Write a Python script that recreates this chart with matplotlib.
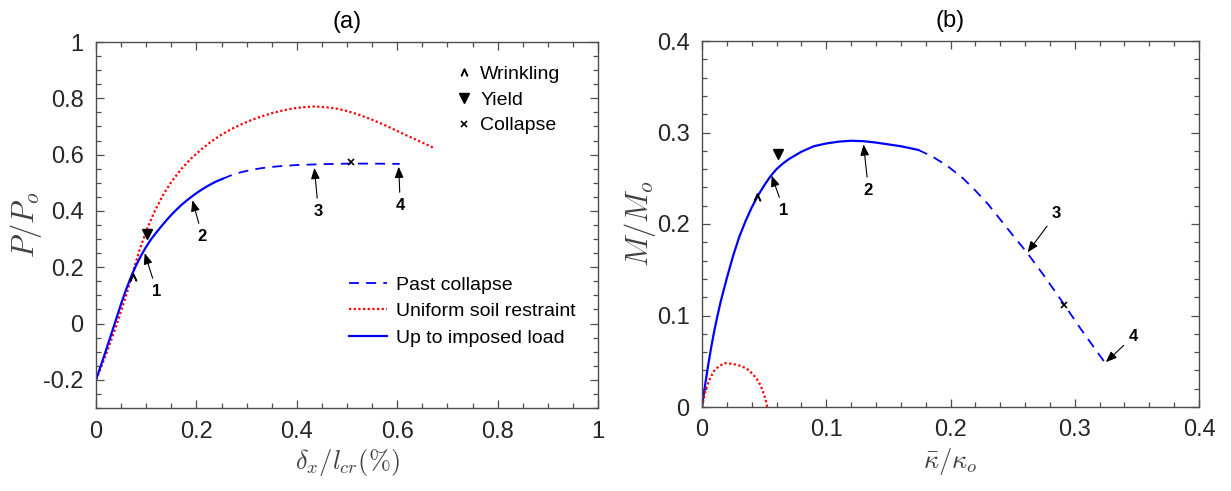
import numpy as np
import matplotlib.pyplot as plt
from matplotlib.ticker import MultipleLocator

plt.rcParams['font.family'] = ['Liberation Sans', 'DejaVu Sans']
plt.rcParams['mathtext.fontset'] = 'cm'

# (a) axial load vs. axial displacement
a_solid_x = [0, 0.01, 0.02, 0.03, 0.04, 0.05, 0.06, 0.07, 0.08, 0.09, 0.1, 0.11, 0.12, 0.13,
             0.14, 0.15, 0.16, 0.17, 0.18, 0.19, 0.2, 0.21, 0.22, 0.23, 0.24, 0.252]
a_solid_y = [-0.2, -0.148, -0.094, -0.04, 0.015, 0.07, 0.121, 0.167, 0.207, 0.242, 0.273, 0.3,
             0.323, 0.345, 0.366, 0.386, 0.404, 0.421, 0.436, 0.45, 0.463, 0.475, 0.486, 0.496,
             0.505, 0.514]
a_dash_x = [0.252, 0.27, 0.29, 0.31, 0.33, 0.36, 0.4, 0.45, 0.5, 0.55, 0.605]
a_dash_y = [0.514, 0.527, 0.538, 0.546, 0.552, 0.558, 0.563, 0.566, 0.568, 0.568, 0.567]
a_soil_x = [0, 0.02, 0.04, 0.06, 0.074, 0.087, 0.101, 0.118, 0.134, 0.15, 0.17, 0.19, 0.21,
            0.23, 0.25, 0.27, 0.29, 0.31, 0.33, 0.35, 0.37, 0.39, 0.41, 0.435, 0.46, 0.48,
            0.5, 0.525, 0.55, 0.575, 0.6, 0.625, 0.65, 0.675]
a_soil_y = [-0.2, -0.11, -0.01, 0.1, 0.186, 0.263, 0.333, 0.403, 0.458, 0.503, 0.549, 0.587,
            0.619, 0.647, 0.671, 0.691, 0.708, 0.723, 0.736, 0.747, 0.756, 0.763, 0.768, 0.771,
            0.768, 0.763, 0.755, 0.741, 0.724, 0.705, 0.684, 0.663, 0.643, 0.622]
a_wrinkle = (0.074, 0.166)
a_yield = (0.101, 0.318)
a_collapse = (0.507, 0.573)
a_labels = ['1', '2', '3', '4']
a_tips = [(0.097, 0.25), (0.192, 0.438), (0.435, 0.553), (0.603, 0.557)]
a_texts = [(0.121, 0.115), (0.212, 0.31), (0.443, 0.399), (0.606, 0.42)]

# (b) moment vs. curvature
b_solid_x = [0, 0.0025, 0.005, 0.0075, 0.01, 0.0125, 0.015, 0.02, 0.025, 0.03, 0.035, 0.04,
             0.045, 0.05, 0.055, 0.06, 0.065, 0.07, 0.08, 0.09, 0.1, 0.11, 0.12, 0.13, 0.14,
             0.15, 0.16, 0.174]
b_solid_y = [0, 0.024, 0.046, 0.066, 0.084, 0.1, 0.115, 0.141, 0.165, 0.186, 0.203, 0.218,
             0.231, 0.242, 0.252, 0.26, 0.266, 0.271, 0.279, 0.285, 0.288, 0.29, 0.291, 0.2905,
             0.289, 0.287, 0.285, 0.281]
b_dash_x = [0.174, 0.185, 0.197, 0.21, 0.219, 0.23, 0.24, 0.25, 0.262, 0.275, 0.291, 0.305, 0.324]
b_dash_y = [0.281, 0.274, 0.264, 0.25, 0.238, 0.222, 0.205, 0.188, 0.168, 0.144, 0.113, 0.085, 0.049]
b_soil_x = [0, 0.002, 0.004, 0.007, 0.01, 0.014, 0.019, 0.025, 0.031, 0.036, 0.04, 0.044,
            0.047, 0.049, 0.051, 0.0525]
b_soil_y = [0, 0.013, 0.023, 0.033, 0.04, 0.045, 0.048, 0.047, 0.045, 0.042, 0.037, 0.031,
            0.024, 0.017, 0.009, 0]
b_wrinkle = (0.044, 0.229)
b_yield = (0.061, 0.277)
b_collapse = (0.291, 0.112)
b_labels = ['1', '2', '3', '4']
b_tips = [(0.056, 0.253), (0.13, 0.287), (0.262, 0.169), (0.325, 0.049)]
b_texts = [(0.066, 0.215), (0.134, 0.237), (0.285, 0.211), (0.347, 0.077)]

BLUE = (0, 0, 1)
RED = (1, 0, 0)
AXCOL = '0.3'
TXTCOL = '#262626'
LABCOL = '0.25'
caret = r'$\wedge$'
DASH = (5.5, 4)
DOT = (1, 1.1)


def style_axes(ax, xmax, ymin, ymax, xmaj, ymaj, xmin_step, ymin_step):
    ax.set_xlim(0, xmax)
    ax.set_ylim(ymin, ymax)
    ax.xaxis.set_major_locator(MultipleLocator(xmaj))
    ax.yaxis.set_major_locator(MultipleLocator(ymaj))
    ax.xaxis.set_minor_locator(MultipleLocator(xmin_step))
    ax.yaxis.set_minor_locator(MultipleLocator(ymin_step))
    ax.tick_params(which='both', direction='in', top=True, right=True, colors=AXCOL,
                   labelcolor=TXTCOL, labelsize=17, width=0.9)
    ax.tick_params(which='major', length=6, pad=9)
    ax.tick_params(which='minor', length=3.5)
    for s in ax.spines.values():
        s.set_color(AXCOL)
        s.set_linewidth(1.0)


def add_arrows(ax, labels, tips, texts):
    for lab, tip, txt in zip(labels, tips, texts):
        ax.annotate(lab, xy=tip, xytext=txt, ha='center', va='center',
                    fontsize=12, fontweight='bold', color='k',
                    arrowprops=dict(arrowstyle='-|>,head_length=0.55,head_width=0.22',
                                    color='k', lw=0.8, shrinkA=2, shrinkB=0))


def fmt(v, pos):
    if abs(v) < 1e-9:
        return '0'
    if abs(v - round(v)) < 1e-9:
        return '%d' % round(v)
    return ('%.1f' % v)


fig = plt.figure(figsize=(12.31, 4.91), dpi=100)
ax1 = fig.add_axes([96 / 1231, 83 / 491, 502 / 1231, 366 / 491])
ax2 = fig.add_axes([702 / 1231, 84 / 491, 497 / 1231, 366 / 491])

# panel (a)
l_dash = ax1.plot(a_dash_x, a_dash_y, '--', dashes=DASH, color=BLUE, lw=1.3,
                  label='Past collapse')[0]
l_soil = ax1.plot(a_soil_x, a_soil_y, ':', dashes=DOT, color=RED, lw=1.6,
                  label='Uniform soil restraint')[0]
l_solid = ax1.plot(a_solid_x, a_solid_y, '-', color=BLUE, lw=1.6, label='Up to imposed load')[0]
m1 = ax1.plot(*a_wrinkle, marker=caret, color='k', ms=5, ls='none', label='Wrinkling')[0]
m2 = ax1.plot(*a_yield, marker='v', color='k', ms=7, ls='none', label='Yield')[0]
m3 = ax1.plot(*a_collapse, marker='x', color='k', ms=5, mew=1.2, ls='none', label='Collapse')[0]
add_arrows(ax1, a_labels, a_tips, a_texts)
style_axes(ax1, 1, -0.3, 1, 0.2, 0.2, 0.05, 0.05)
ax1.xaxis.set_major_formatter(plt.FuncFormatter(fmt))
ax1.yaxis.set_major_formatter(plt.FuncFormatter(fmt))
ax1.set_title('(a)', fontsize=17, color='k', pad=10)
ax1.set_xlabel(r'$\delta_x/l_{cr}(\%)$', fontsize=19, color=LABCOL, labelpad=3)
ax1.set_ylabel(r'$P/P_o$', fontsize=22, color=LABCOL, labelpad=-1)

leg1 = ax1.legend(handles=[m1, m2, m3], loc='upper left', bbox_to_anchor=(0.705, 0.958),
                  frameon=False, fontsize=14, handlelength=0.7, handletextpad=0.45,
                  labelspacing=0.42, borderaxespad=0)
ax1.add_artist(leg1)
ax1.legend(handles=[l_dash, l_soil, l_solid], loc='upper left', bbox_to_anchor=(0.488, 0.381),
           frameon=False, fontsize=14, handlelength=1.95, handletextpad=0.5,
           labelspacing=0.45, borderaxespad=0)

# panel (b)
ax2.plot(b_solid_x, b_solid_y, '-', color=BLUE, lw=1.6)
ax2.plot(b_dash_x, b_dash_y, '--', dashes=DASH, color=BLUE, lw=1.3)
ax2.plot(b_soil_x, b_soil_y, ':', dashes=DOT, color=RED, lw=1.6)
ax2.plot(*b_wrinkle, marker=caret, color='k', ms=5, ls='none')
ax2.plot(*b_yield, marker='v', color='k', ms=7, ls='none')
ax2.plot(*b_collapse, marker='x', color='k', ms=5, mew=1.2, ls='none')
add_arrows(ax2, b_labels, b_tips, b_texts)
style_axes(ax2, 0.4, 0, 0.4, 0.1, 0.1, 0.02, 0.02)
ax2.xaxis.set_major_formatter(plt.FuncFormatter(fmt))
ax2.yaxis.set_major_formatter(plt.FuncFormatter(fmt))
ax2.set_title('(b)', fontsize=17, color='k', pad=10)
ax2.set_xlabel(r'$\bar{\kappa}/\kappa_o$', fontsize=19, color=LABCOL, labelpad=3)
ax2.set_ylabel(r'$M/M_o$', fontsize=22, color=LABCOL, labelpad=-1)

fig.savefig('out.png', dpi=100)
